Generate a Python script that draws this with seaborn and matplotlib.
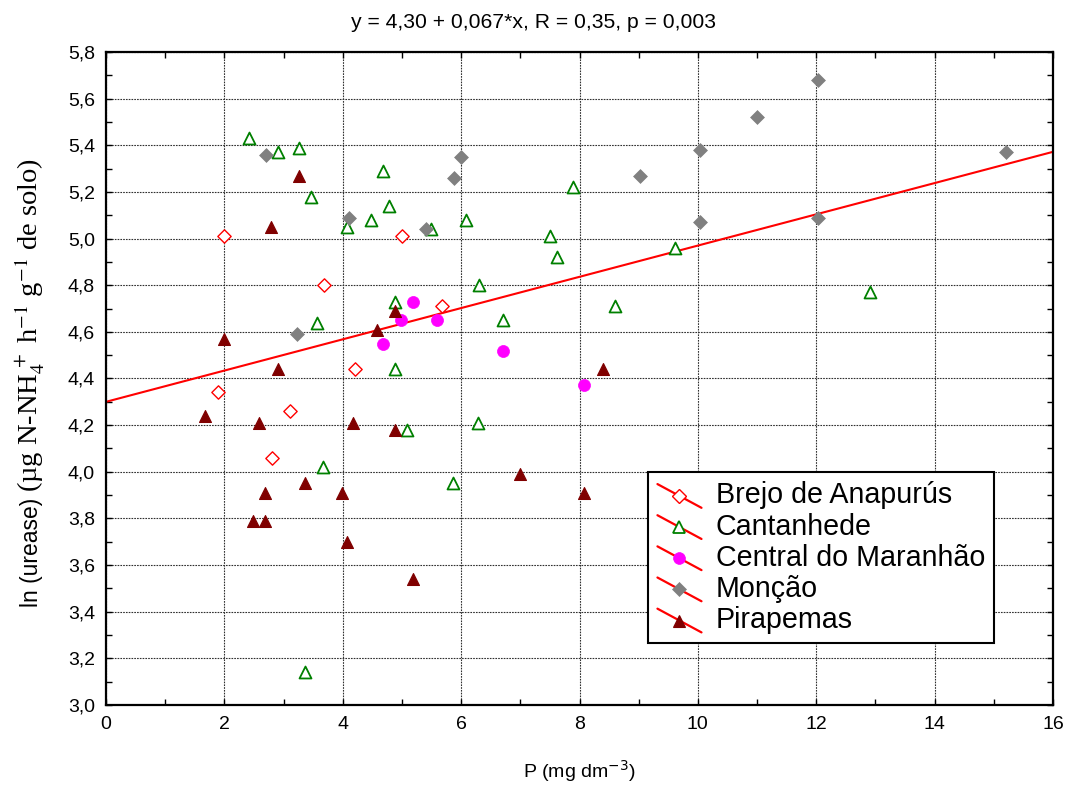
import matplotlib
matplotlib.use("Agg")
import matplotlib.pyplot as plt
import numpy as np
import pandas as pd
import seaborn as sns
from matplotlib.lines import Line2D
from matplotlib.legend_handler import HandlerBase
from matplotlib.ticker import FixedLocator, FixedFormatter

# ---------------- data ----------------
groups = ["Brejo de Anapurús", "Cantanhede", "Central do Maranhão", "Monção", "Pirapemas"]

brejo_x = [2.00, 5.00, 3.69, 5.68, 4.20, 1.90, 3.11, 2.81]
brejo_y = [5.01, 5.01, 4.80, 4.71, 4.44, 4.34, 4.26, 4.06]

cant_x = [2.42, 2.90, 3.26, 4.68, 3.47, 4.78, 4.48, 4.07, 5.49, 6.08, 6.30, 4.88, 3.57,
          4.88, 5.09, 3.67, 5.86, 3.37, 6.28, 7.89, 7.51, 7.62, 9.61, 8.60, 6.70, 12.90]
cant_y = [5.43, 5.37, 5.39, 5.29, 5.18, 5.14, 5.08, 5.05, 5.04, 5.08, 4.80, 4.73, 4.64,
          4.44, 4.18, 4.02, 3.95, 3.14, 4.21, 5.22, 5.01, 4.92, 4.96, 4.71, 4.65, 4.77]

central_x = [5.19, 4.99, 5.60, 4.68, 6.70, 8.08]
central_y = [4.73, 4.65, 4.65, 4.55, 4.52, 4.37]

moncao_x = [2.71, 3.22, 4.10, 5.40, 5.99, 5.88, 9.02, 10.03, 11.00, 12.03, 15.20, 10.03, 12.03]
moncao_y = [5.36, 4.59, 5.09, 5.04, 5.35, 5.26, 5.27, 5.38, 5.52, 5.68, 5.37, 5.07, 5.09]

pira_x = [3.26, 2.79, 4.88, 4.58, 1.99, 2.90, 1.68, 2.59, 4.18, 4.88, 3.37, 2.69, 3.98,
          2.49, 2.69, 4.07, 5.19, 8.39, 7.00, 8.08]
pira_y = [5.27, 5.05, 4.69, 4.61, 4.57, 4.44, 4.24, 4.21, 4.21, 4.18, 3.95, 3.91, 3.91,
          3.79, 3.79, 3.70, 3.54, 4.44, 3.99, 3.91]

intercept = 4.30
slope = 0.067

x_ticks = [0, 2, 4, 6, 8, 10, 12, 14, 16]
x_ticklabels = ["0", "2", "4", "6", "8", "10", "12", "14", "16"]
y_ticks = [3.0, 3.2, 3.4, 3.6, 3.8, 4.0, 4.2, 4.4, 4.6, 4.8, 5.0, 5.2, 5.4, 5.6, 5.8]
y_ticklabels = ["3,0", "3,2", "3,4", "3,6", "3,8", "4,0", "4,2", "4,4", "4,6", "4,8",
                "5,0", "5,2", "5,4", "5,6", "5,8"]

title_text = "y = 4,30 + 0,067*x, R = 0,35, p = 0,003"
xlabel_text = r"P (mg dm$^{-3}$)"
ylabel_sans = "ln (urease)"
ylabel_serif = r"(µg N-NH$_4^{\,+}$ h$^{-1}$ g$^{-1}$ de solo)"

frames = []
for g, xs, ys in zip(groups,
                     [brejo_x, cant_x, central_x, moncao_x, pira_x],
                     [brejo_y, cant_y, central_y, moncao_y, pira_y]):
    frames.append(pd.DataFrame({"P": xs, "urease": ys, "group": g}))
df = pd.concat(frames, ignore_index=True)

styles = {
    "Brejo de Anapurús":   dict(marker="D", s=46, color="white", edgecolor="#ff0000", linewidth=1.0),
    "Cantanhede":          dict(marker="^", s=74, color="white", edgecolor="#008000", linewidth=1.3),
    "Central do Maranhão": dict(marker="o", s=75, color="#ff00ff", edgecolor="#ff00ff", linewidth=0.5),
    "Monção":              dict(marker="D", s=50, color="#808080", edgecolor="#808080", linewidth=0.5),
    "Pirapemas":           dict(marker="^", s=74, color="#800000", edgecolor="#800000", linewidth=0.8),
}

# ---------------- figure ----------------
sns.set_theme(style="white")
plt.rcParams["font.family"] = ["Liberation Sans", "DejaVu Sans"]

W, H = 1067, 790
fig = plt.figure(figsize=(W / 100, H / 100), dpi=100)
L, R, T, B = 106, 1053, 52, 705
ax = fig.add_axes([L / W, 1 - B / H, (R - L) / W, (B - T) / H])

ax.set_xlim(0, 16)
ax.set_ylim(3.0, 5.8)

for g in groups:
    sns.scatterplot(data=df[df["group"] == g], x="P", y="urease", ax=ax,
                    legend=False, zorder=3, **styles[g])

xr = np.array([0, 16])
ax.plot(xr, intercept + slope * xr, color="#ff0000", lw=1.5, zorder=2)

# ticks and grid
ax.xaxis.set_major_locator(FixedLocator(x_ticks))
ax.xaxis.set_major_formatter(FixedFormatter(x_ticklabels))
ax.yaxis.set_major_locator(FixedLocator(y_ticks))
ax.yaxis.set_major_formatter(FixedFormatter(y_ticklabels))
ax.xaxis.set_minor_locator(FixedLocator(np.arange(1, 16, 2)))
ax.yaxis.set_minor_locator(FixedLocator(np.arange(3.1, 5.8, 0.2)))
ax.tick_params(which="both", direction="in", top=True, right=True, bottom=True, left=True,
               length=4, width=1, color="black")
ax.tick_params(axis="both", which="major", labelsize=14, pad=8, labelcolor="black")
ax.grid(True, which="major", color="#303030", lw=0.8, ls=(0, (1.5, 1)), zorder=1)
for sp in ax.spines.values():
    sp.set_color("black")
    sp.set_linewidth(1.6)
    sp.set_zorder(4)

# title and x label
fig.text(0.5, 1 - 22 / H, title_text, ha="center", va="center", fontsize=15.2, color="black")
ax.set_xlabel(xlabel_text, fontsize=14, color="black", labelpad=18,
              math_fontfamily="dejavusans")
ax.set_ylabel("")

# y label: sans part then serif part, rotated
fig.canvas.draw()
renderer = fig.canvas.get_renderer()
xb = 38 / W
y0 = 1 - 607 / H
t1 = fig.text(xb, y0, ylabel_sans, rotation=90, rotation_mode="anchor",
              ha="left", va="baseline", fontsize=16.5, color="black")
bb1 = t1.get_window_extent(renderer)
y1 = y0 + (bb1.height + 6) / H
fig.text(xb, y1, ylabel_serif, rotation=90, rotation_mode="anchor",
         ha="left", va="baseline", fontsize=20.5, color="black",
         family=["Liberation Serif", "DejaVu Serif"], math_fontfamily="stix")


# legend with diagonal red line through marker
class DiagHandler(HandlerBase):
    def create_artists(self, legend, orig_handle, xdescent, ydescent, width, height,
                       fontsize, trans):
        x0, x1 = -xdescent, -xdescent + width
        yb, yt = -ydescent - 0.1 * height, -ydescent + height * 0.9
        line = Line2D([x0, x1], [yt, yb], color="#ff0000", lw=1.6, transform=trans)
        mk = Line2D([(x0 + x1) / 2], [(yt + yb) / 2], linestyle="none",
                    marker=orig_handle.get_marker(),
                    markersize=orig_handle.get_markersize(),
                    markerfacecolor=orig_handle.get_markerfacecolor(),
                    markeredgecolor=orig_handle.get_markeredgecolor(),
                    markeredgewidth=orig_handle.get_markeredgewidth(),
                    transform=trans)
        return [line, mk]


legend_ms = {"D": 6.8, "^": 8.4, "o": 8.5}
handles = []
for g in groups:
    st = styles[g]
    handles.append(Line2D([], [], linestyle="none", marker=st["marker"],
                          markersize=legend_ms[st["marker"]],
                          markerfacecolor=st["color"], markeredgecolor=st["edgecolor"],
                          markeredgewidth=st["linewidth"]))

lx, ly = 648, 472
anchor = ax.transAxes.inverted().transform(fig.transFigure.transform((lx / W, 1 - ly / H)))
leg = ax.legend(handles, groups, handler_map={Line2D: DiagHandler()},
                loc="upper left", bbox_to_anchor=(anchor[0], anchor[1]),
                borderaxespad=0, fontsize=20.6, frameon=True, fancybox=False,
                framealpha=1, edgecolor="black", handlelength=1.54, handleheight=0.9,
                handletextpad=0.49, labelspacing=0.11, borderpad=0.33)
leg.get_frame().set_linewidth(1.5)
leg.set_zorder(5)
for t in leg.get_texts():
    t.set_color("black")

fig.savefig("out.png", dpi=100)
